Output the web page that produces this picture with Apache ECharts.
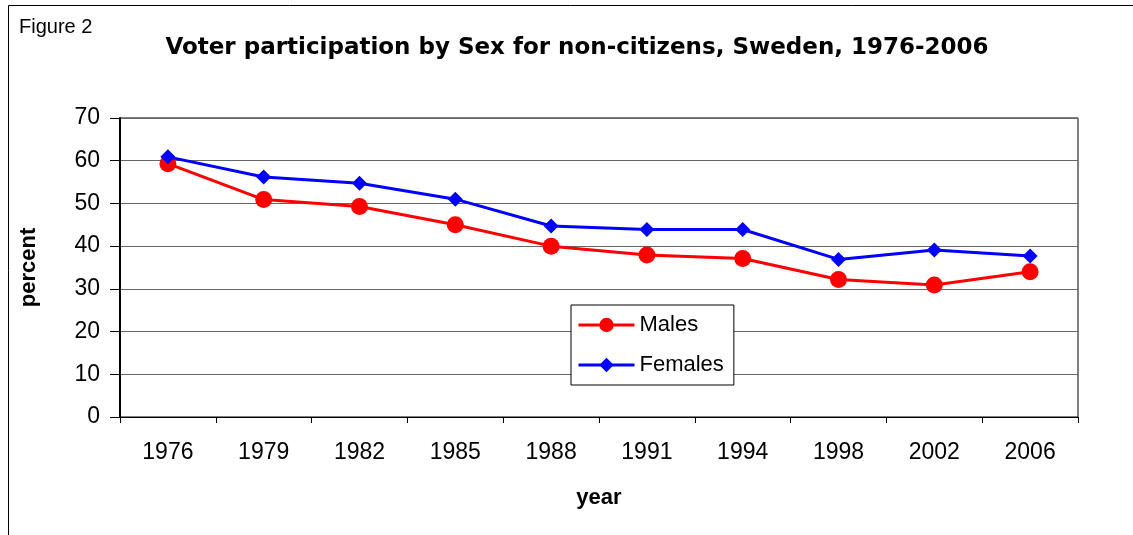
<!DOCTYPE html>
<html><head><meta charset="utf-8">
<script src="https://cdn.jsdelivr.net/npm/echarts@6/dist/echarts.min.js"></script>
<style>html,body{margin:0;padding:0;background:#fff}#c{width:1133px;height:535px}</style>
</head><body><div id="c"></div>
<script>
const years = ['1976','1979','1982','1985','1988','1991','1994','1998','2002','2006'];
const males = [59.3, 50.9, 49.3, 45.0, 40.0, 37.9, 37.1, 32.2, 30.9, 34.0];
const females = [60.9, 56.2, 54.7, 51.0, 44.7, 43.9, 43.9, 36.9, 39.1, 37.7];
const yTicks = [0,10,20,30,40,50,60,70];

const chart = echarts.init(document.getElementById('c'));
const font = '"Liberation Sans Narrow", "Liberation Sans", Arial, sans-serif';
chart.setOption({
  animation: false,
  backgroundColor: '#fff',
  title: [
    {text: 'Voter participation by Sex for non-citizens, Sweden, 1976-2006', left: 572, top: 32, textAlign: 'center',
     textStyle: {fontFamily: 'DejaVu Sans, sans-serif', fontWeight: 'bold', fontSize: 23, color: '#000'}},
    {text: 'Figure 2', left: 14, top: 12, textStyle: {fontFamily: font, fontWeight: 'normal', fontSize: 20, color: '#000'}}
  ],
  graphic: [
    {type: 'polyline', shape: {points: [[8.5, 535], [8.5, 5.5], [1133, 5.5]]}, style: {stroke: '#000', lineWidth: 1, fill: null}, silent: true}
  ],
  grid: {left: 120, right: 55, top: 118, bottom: 118, show: true, borderColor: '#000', borderWidth: 1},
  legend: {
    orient: 'vertical', left: 571, top: 305, itemGap: 18, itemWidth: 56, itemHeight: 18,
    padding: [9, 10, 9, 6],
    borderColor: '#000', borderWidth: 1, backgroundColor: '#fff',
    lineStyle: {width: 3},
    textStyle: {fontFamily: font, fontSize: 22, color: '#000'},
    data: ['Males', 'Females']
  },
  xAxis: {
    type: 'category', data: years, boundaryGap: true,
    name: 'year', nameLocation: 'middle', nameGap: 70,
    nameTextStyle: {fontFamily: font, fontWeight: 'bold', fontSize: 22, color: '#000'},
    axisLine: {lineStyle: {color: '#000', width: 1}},
    axisTick: {show: true, inside: false, length: 6, lineStyle: {color: '#000'}},
    axisLabel: {fontFamily: font, fontSize: 23, color: '#000', margin: 24},
    splitLine: {show: false}
  },
  yAxis: {
    type: 'value', min: 0, max: 70, interval: 10,
    name: 'percent', nameLocation: 'middle', nameGap: 80, nameRotate: 90,
    nameTextStyle: {fontFamily: font, fontWeight: 'bold', fontSize: 22, color: '#000'},
    axisLine: {show: true, lineStyle: {color: '#000', width: 2}},
    axisTick: {show: true, inside: false, length: 10, lineStyle: {color: '#000'}},
    axisLabel: {fontFamily: font, fontSize: 23, color: '#000', margin: 20,
      formatter: v => yTicks.includes(v) ? String(v) : ''},
    splitLine: {show: true, lineStyle: {color: '#666', width: 1}}
  },
  series: [
    {name: 'Males', type: 'line', data: males, symbol: 'circle', symbolSize: 17,
     itemStyle: {color: '#ff0000'}, lineStyle: {color: '#ff0000', width: 3}, z: 2},
    {name: 'Females', type: 'line', data: females, symbol: 'diamond', symbolSize: 15,
     itemStyle: {color: '#0000ff'}, lineStyle: {color: '#0000ff', width: 3}, z: 3}
  ]
});
</script></body></html>
